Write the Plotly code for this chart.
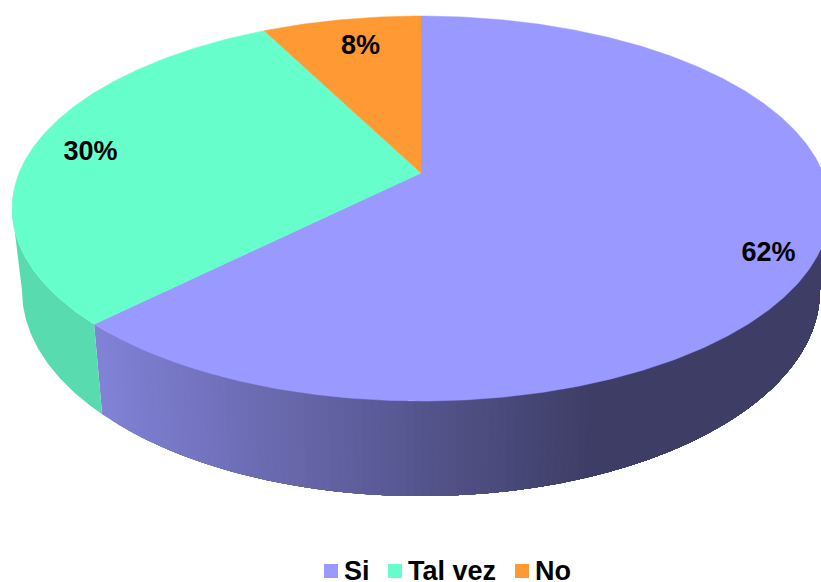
import math
import plotly.graph_objects as go

# --- data ---
categories = ["Si", "Tal vez", "No"]
values = [25, 12, 3]
percent_labels = [f"{round(100 * v / sum(values))}%" for v in values]

# --- style ---
top_colors = ["#9999FF", "#66FFCC", "#FF9933"]
label_pixels = [(768.5, 254), (90.5, 153), (360.5, 47)]
legend_swatch_x = [331, 395, 522]
legend_y = 571
FONT = "Liberation Sans, Arial, sans-serif"
FONT_SIZE = 27
W, H = 821, 582

# perspective geometry of the disc
CX, APEX_Y, SX, SY_A, PERSP = 421, 173, 402, -154.05, 0.1844
BOTTOM_X_SCALE, BOTTOM_Y_SCALE, BOTTOM_Y_OFFSET = 0.9755, 1.066, 68.6
# the wall is visible between the two silhouette tangents of the disc
WALL_FROM = math.degrees(math.acos(-PERSP))
WALL_TO = 360 - WALL_FROM


def rim(theta_deg, bottom=False):
    t = math.radians(theta_deg)
    x, y = math.sin(t), math.cos(t)
    w = 1 + PERSP * y
    px, py = CX + SX * x / w, (SY_A * y + APEX_Y) / w
    if bottom:
        px = CX + BOTTOM_X_SCALE * (px - CX)
        py = BOTTOM_Y_SCALE * py + BOTTOM_Y_OFFSET
    return px, py


def arc(a, b, bottom=False, step=0.5):
    n = max(2, int(abs(b - a) / step) + 1)
    return [rim(a + (b - a) * i / (n - 1), bottom) for i in range(n)]


def shade(hex_color, f):
    r, g, b = (int(hex_color[i:i + 2], 16) for i in (1, 3, 5))
    return f"rgb({round(r * f)},{round(g * f)},{round(b * f)})"


def side_factor(cat_index, px):
    if cat_index == 0:
        u = min(1.0, max(0.0, (px - 102) / (594 - 102)))
        return 0.84 - (0.84 - 0.40) * u
    return 0.86


def polygon(pts, color):
    fig.add_trace(go.Scatter(
        x=[p[0] for p in pts] + [pts[0][0]], y=[p[1] for p in pts] + [pts[0][1]],
        mode="lines", fill="toself", fillcolor=color,
        line=dict(color=color, width=0), hoverinfo="skip", showlegend=False))


fig = go.Figure()

# slice angles, clockwise from the top
angles = [0]
for v in values:
    angles.append(angles[-1] + 360 * v / sum(values))

# side wall: painted left to right, each band reaching to the slice's far end
for i in range(len(values)):
    lo, hi = max(angles[i], WALL_FROM), min(angles[i + 1], WALL_TO)
    if lo >= hi:
        continue
    n = max(1, int((hi - lo) / 1.0))
    last = None
    for j in range(n):
        s = hi - (hi - lo) * j / n
        mid = rim(s - (hi - lo) / n / 2)[0]
        col = shade(top_colors[i], side_factor(i, mid))
        if col != last:
            polygon(arc(lo, s) + arc(s, lo, bottom=True), col)
            last = col

# top face
for i in range(len(values)):
    pts = [(CX, APEX_Y)] + arc(angles[i], angles[i + 1])
    fig.add_trace(go.Scatter(
        x=[p[0] for p in pts] + [CX], y=[p[1] for p in pts] + [APEX_Y], mode="lines", fill="toself",
        fillcolor=top_colors[i], line=dict(color=top_colors[i], width=0.5),
        name=categories[i], hoverinfo="skip", showlegend=False))

# percentage labels
fig.add_trace(go.Scatter(
    x=[p[0] for p in label_pixels], y=[p[1] for p in label_pixels], mode="text",
    text=percent_labels, textposition="middle center",
    textfont=dict(family=FONT, size=FONT_SIZE, color="black", weight="bold"),
    hoverinfo="skip", showlegend=False))

# legend swatches and text
fig.add_trace(go.Scatter(
    x=legend_swatch_x, y=[legend_y] * 3, mode="markers",
    marker=dict(symbol="square", size=14, color=top_colors, line=dict(width=0)),
    hoverinfo="skip", showlegend=False))
for x, name in zip(legend_swatch_x, categories):
    fig.add_annotation(x=x + 13, y=legend_y, text=f"<b>{name}</b>", showarrow=False,
                       xanchor="left", yanchor="middle", xref="x", yref="y",
                       font=dict(family=FONT, size=FONT_SIZE, color="black"), borderpad=0, borderwidth=0)

fig.update_layout(
    width=W, height=H, margin=dict(l=0, r=0, t=0, b=0), autosize=False,
    paper_bgcolor="white", plot_bgcolor="white", showlegend=False,
    xaxis=dict(range=[0, W], visible=False, fixedrange=True),
    yaxis=dict(range=[H, 0], visible=False, fixedrange=True),
)
fig.write_html("out.html", config={"displayModeBar": False},
               post_script="document.body.style.margin='0';")
